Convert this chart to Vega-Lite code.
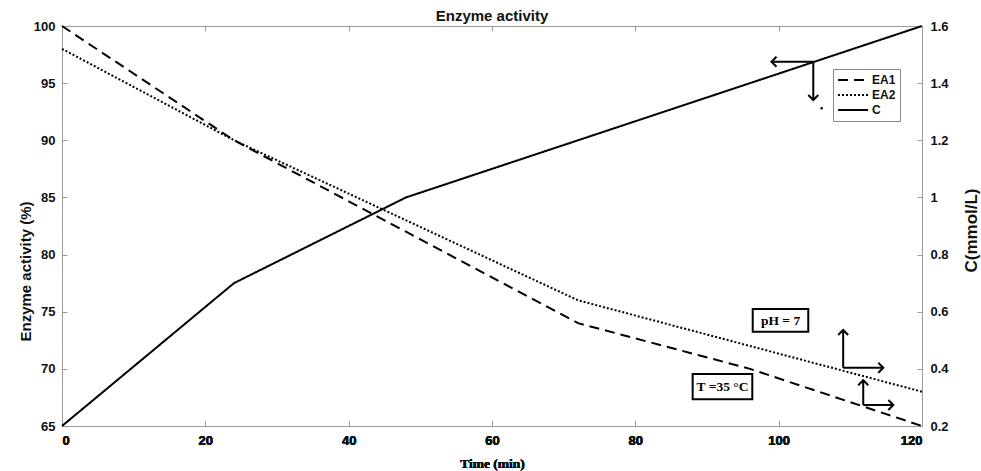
{
  "$schema": "https://vega.github.io/schema/vega-lite/v6.json",
  "width": 860,
  "height": 400,
  "autosize": {"type": "none"},
  "padding": {"left": 62, "top": 26, "right": 59, "bottom": 45},
  "background": "white",
  "config": {
    "font": "Liberation Sans",
    "view": {"stroke": "#9a9a9a", "strokeWidth": 1},
    "axis": {
      "grid": false,
      "domainColor": "#9a9a9a",
      "tickColor": "#9a9a9a",
      "tickSize": -5,
      "labelFont": "Liberation Sans",
      "labelFontSize": 13,
      "labelFontWeight": "bold",
      "labelColor": "#111",
      "titleFont": "Liberation Sans",
      "titleFontSize": 15,
      "titleFontWeight": "bold",
      "titleColor": "#111"
    }
  },
  "title": {"text": "Enzyme activity", "font": "Liberation Sans", "fontSize": 15, "fontWeight": "bold", "color": "#111", "offset": -4},
  "datasets": {
    "lines": [
      {"series": "EA1", "time": 0, "value": 100},
      {"series": "EA1", "time": 24, "value": 90},
      {"series": "EA1", "time": 48, "value": 82},
      {"series": "EA1", "time": 72, "value": 74},
      {"series": "EA1", "time": 96, "value": 70},
      {"series": "EA1", "time": 120, "value": 65},
      {"series": "EA2", "time": 0, "value": 98},
      {"series": "EA2", "time": 24, "value": 90},
      {"series": "EA2", "time": 48, "value": 83},
      {"series": "EA2", "time": 72, "value": 76},
      {"series": "EA2", "time": 96, "value": 72},
      {"series": "EA2", "time": 120, "value": 68},
      {"series": "C", "time": 0, "value": 0.2},
      {"series": "C", "time": 24, "value": 0.7},
      {"series": "C", "time": 48, "value": 1.0},
      {"series": "C", "time": 72, "value": 1.2},
      {"series": "C", "time": 96, "value": 1.4},
      {"series": "C", "time": 120, "value": 1.6}
    ],
    "arrowsEA": [
      {"time": 109.0, "value": 73.4, "time2": 109.0, "value2": 70.1, "dir": "up"},
      {"time": 114.6, "value": 70.1, "time2": 109.0, "value2": 70.1, "dir": "right"},
      {"time": 111.8, "value": 69.0, "time2": 111.8, "value2": 66.84, "dir": "up"},
      {"time": 116.0, "value": 66.84, "time2": 111.8, "value2": 66.84, "dir": "right"}
    ],
    "arrowsC": [
      {"time": 99.0, "value": 1.475, "time2": 104.83, "value2": 1.475, "dir": "left"},
      {"time": 104.83, "value": 1.341, "time2": 104.83, "value2": 1.475, "dir": "down"}
    ],
    "dotC": [
      {"time": 106.0, "value": 1.312}
    ],
    "boxes": [
      {"time": 96.38, "time2": 104.13, "value": 75.24, "value2": 73.25},
      {"time": 88.0, "time2": 96.32, "value": 69.55, "value2": 67.34}
    ],
    "labels": [
      {"time": 100.26, "value": 74.2, "label": "pH = 7"},
      {"time": 92.16, "value": 68.4, "label": "T =35 °C"}
    ]
  },
  "encoding": {
    "x": {
      "field": "time",
      "type": "quantitative",
      "scale": {"domain": [0, 120], "nice": false, "zero": false},
      "axis": {
        "orient": "bottom",
        "values": [0, 20, 40, 60, 80, 100, 120],
        "labelPadding": 13,
        "title": "Time (min)",
        "titleFont": "Liberation Serif",
        "titleFontSize": 13.5,
        "titlePadding": 9
      }
    }
  },
  "layer": [
    {
      "encoding": {
        "y": {
          "field": "value",
          "type": "quantitative",
          "scale": {"domain": [65, 100], "nice": false, "zero": false},
          "axis": {
            "orient": "left",
            "values": [65, 70, 75, 80, 85, 90, 95, 100],
            "labelPadding": 12,
            "title": "Enzyme activity (%)",
            "titleAngle": -90,
            "titleAlign": "center",
            "titleBaseline": "middle",
            "titleX": -37,
            "titleY": 245
          }
        }
      },
      "layer": [
        {
          "data": {"name": "lines"},
          "transform": [{"filter": "datum.series !== 'C'"}],
          "mark": {"type": "line", "color": "black", "strokeWidth": 2},
          "encoding": {
            "strokeDash": {
              "field": "series",
              "type": "nominal",
              "scale": {"domain": ["EA1", "EA2", "C"], "range": [[10, 6], [2, 2], [1, 0]]},
              "legend": {
                "title": null,
                "orient": "none",
                "legendX": 771,
                "legendY": 43,
                "direction": "vertical",
                "padding": 4,
                "strokeColor": "#888",
                "fillColor": "white",
                "symbolType": "stroke",
                "symbolSize": 900,
                "symbolStrokeWidth": 2,
                "symbolStrokeColor": "black",
                "clipHeight": 14,
                "labelFont": "Liberation Sans",
                "labelFontSize": 12,
                "labelFontWeight": "bold",
                "labelColor": "#111",
                "labelOffset": 3,
                "rowPadding": 1
              }
            }
          }
        },
        {
          "data": {"name": "arrowsEA"},
          "mark": {"type": "rule", "color": "black", "strokeWidth": 2},
          "encoding": {"x2": {"field": "time2"}, "y2": {"field": "value2"}}
        },
        {
          "data": {"name": "arrowsEA"},
          "mark": {"type": "point", "filled": false, "color": "black", "strokeWidth": 2, "size": 100, "opacity": 1},
          "encoding": {
            "shape": {
              "field": "dir",
              "type": "nominal",
              "scale": {"domain": ["up", "right", "left", "down"], "range": ["M-1,1L0,0L1,1", "M-1,-1L0,0L-1,1", "M1,-1L0,0L1,1", "M-1,-1L0,0L1,-1"]},
              "legend": null
            }
          }
        },
        {
          "data": {"name": "boxes"},
          "mark": {"type": "rect", "fill": "white", "stroke": "black", "strokeWidth": 2},
          "encoding": {"x2": {"field": "time2"}, "y2": {"field": "value2"}}
        },
        {
          "data": {"name": "labels"},
          "mark": {"type": "text", "font": "Liberation Serif", "fontSize": 13.5, "fontWeight": "bold", "color": "black", "align": "center", "baseline": "middle"},
          "encoding": {
            "text": {"field": "label"},
            "x": {"field": "time", "type": "quantitative", "axis": {"orient": "top", "labels": false, "title": null, "domain": false, "values": [0, 20, 40, 60, 80, 100, 120]}}
          }
        }
      ]
    },
    {
      "encoding": {
        "y": {
          "field": "value",
          "type": "quantitative",
          "scale": {"domain": [0.2, 1.6], "nice": false, "zero": false},
          "axis": {
            "orient": "right",
            "values": [0.2, 0.4, 0.6, 0.8, 1.0, 1.2, 1.4, 1.6],
            "format": ".1~f",
            "labelPadding": 13,
            "title": "C(mmol/L)",
            "titleFontSize": 17,
            "titleAngle": 270,
            "titleAlign": "center",
            "titleBaseline": "middle",
            "titleX": 49,
            "titleY": 204
          }
        }
      },
      "layer": [
        {
          "data": {"name": "lines"},
          "transform": [{"filter": "datum.series === 'C'"}],
          "mark": {"type": "line", "color": "black", "strokeWidth": 2},
          "encoding": {
            "strokeDash": {
              "field": "series",
              "type": "nominal",
              "scale": {"domain": ["EA1", "EA2", "C"], "range": [[10, 6], [2, 2], [1, 0]]}
            }
          }
        },
        {
          "data": {"name": "arrowsC"},
          "mark": {"type": "rule", "color": "black", "strokeWidth": 2},
          "encoding": {"x2": {"field": "time2"}, "y2": {"field": "value2"}}
        },
        {
          "data": {"name": "arrowsC"},
          "mark": {"type": "point", "filled": false, "color": "black", "strokeWidth": 2, "size": 100, "opacity": 1},
          "encoding": {
            "shape": {
              "field": "dir",
              "type": "nominal",
              "scale": {"domain": ["up", "right", "left", "down"], "range": ["M-1,1L0,0L1,1", "M-1,-1L0,0L-1,1", "M1,-1L0,0L1,1", "M-1,-1L0,0L1,-1"]},
              "legend": null
            }
          }
        },
        {
          "data": {"name": "dotC"},
          "mark": {"type": "point", "filled": true, "color": "black", "size": 6, "opacity": 1}
        }
      ]
    }
  ],
  "resolve": {"scale": {"y": "independent"}}
}
